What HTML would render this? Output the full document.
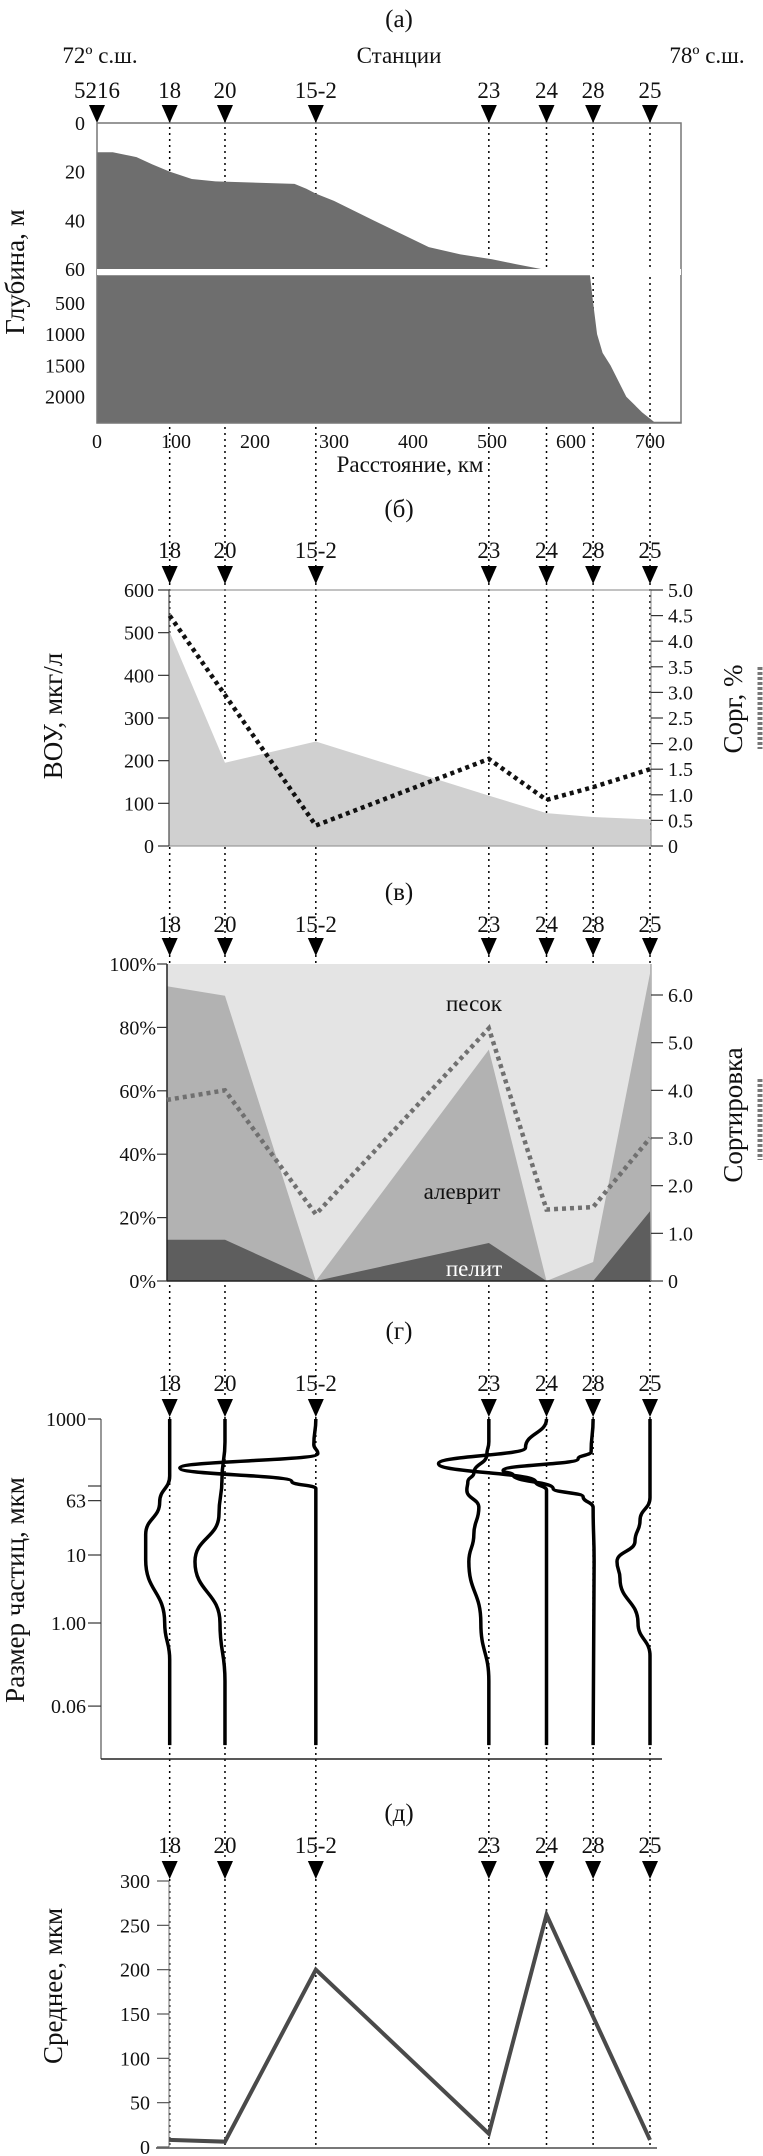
<!DOCTYPE html>
<html><head><meta charset="utf-8">
<style>
html,body{margin:0;padding:0;background:#fff;}
svg{display:block;font-family:"Liberation Serif","DejaVu Serif",serif;}
</style></head>
<body>
<svg id="fig" width="763" height="2156" viewBox="0 0 763 2156" xmlns="http://www.w3.org/2000/svg"></svg>
<script>
// ---------- data ----------
const stationNames = ["18","20","15-2","23","24","28","25"];
const stationKm = [92,162,277,496,569,628,700];
// panel a: bathymetry
const upperKm = [0,20,50,70,92,120,150,250,265,277,300,350,420,460,500,530,562];
const upperDepth = [12,12,14,17,20,23,24,25,27,29,32,40,51,54,56,58,60];
const lowerKm = [624,628,633,640,650,670,690,705,740];
const lowerDepth = [60,500,1000,1300,1500,2000,2250,2400,2400];
const depthTicksUpper = [0,20,40,60];
const depthTicksLower = [500,1000,1500,2000];
const kmTicks = [0,100,200,300,400,500,600,700];
// panel b
const vouValues = [505,195,245,118,77,68,62];
const corgValues = [4.5,2.95,0.4,1.7,0.9,1.15,1.5];
const vouTicks = [0,100,200,300,400,500,600];
const corgTicks = ["0","0.5","1.0","1.5","2.0","2.5","3.0","3.5","4.0","4.5","5.0"];
// panel c (percent)
const pelitPct = [13,13,0,12,0,0,22];
const pelitAlevritPct = [93,90,0,73,0,6,97];
const sortValues = [3.8,4.0,1.4,5.3,1.5,1.55,3.0];
const pctTicks = [0,20,40,60,80,100];
const sortTicks = ["0","1.0","2.0","3.0","4.0","5.0","6.0"];
// panel d: grain-size curves [size µm, deflection]
const sizeTicks = [1000,63,10,1,0.06];
const sizeTickLabels = ["1000","63","10","1.00","0.06"];
const curve18 = [[1000,0],[145,0],[60,-10],[20,-24],[8.5,-24],[1,-5],[0.29,0],[0.016,0]];
const curve20 = [[1000,0],[460,0],[130,-3],[40,-6],[8,-30],[1,-5],[0.14,0],[0.016,0]];
const curve152 = [[1000,0],[420,-2],[310,2],[190,-136],[120,-24],[95,0],[0.016,0]];
const curve23 = [[1000,0],[460,0],[300,-2],[160,-15],[120,-21],[90,-22],[50,-10],[20,-15],[8,-20],[1,-8],[0.14,0],[0.016,0]];
const curve24 = [[1000,0],[380,-21],[220,-108],[120,-11],[90,0],[0.016,0]];
const curve28 = [[1000,0],[330,-2],[260,-15],[175,-90],[150,-80],[95,-40],[72,-10],[50,0],[8,1],[0.016,0]];
const curve25 = [[1000,0],[70,0],[32,-10],[16,-15],[8,-33],[4.5,-30],[1,-12],[0.33,0],[0.016,0]];
const curves = [curve18,curve20,curve152,curve23,curve24,curve28,curve25];
// panel e
const meanValues = [8,6,200,15,262,147,8];
const meanTicks = [0,50,100,150,200,250,300];

// ---------- helpers ----------
const NS="http://www.w3.org/2000/svg";
const svg=document.getElementById('fig');
function mk(tag,attrs,parent){const e=document.createElementNS(NS,tag);for(const k in attrs)e.setAttribute(k,attrs[k]);(parent||svg).appendChild(e);return e;}
function txt(s,x,y,size,anchor,parent,extra){const t=mk('text',Object.assign({x:x,y:y,'font-size':size,'text-anchor':anchor||'middle',fill:'#111'},extra||{}),parent);t.textContent=s;return t;}
const kmX = km => 97 + km*(553/700);
const sx = stationKm.map(kmX);
function tri(x,y,parent){return mk('path',{d:`M${x-8},${y} L${x+8},${y} L${x},${y+18} Z`,fill:'#000'},parent);}
const LS=23, TS=20, AS=27, PS=25;

// dotted station lines
const gLines=mk('g',{});


sx.forEach((x,i)=>{const l=mk('line',{x1:x,y1:121,x2:x,y2:2147,stroke:'#000','stroke-width':1.5,'stroke-dasharray':'2,4'},gLines);

});

// ---------- panel a ----------
const gA=mk('g',{});


txt('(а)',399,27,PS,'middle',gA);
txt('72º с.ш.',100,63,LS,'middle',gA);
txt('Станции',399,63,LS,'middle',gA);
txt('78º с.ш.',707,63,LS,'middle',gA);
const aNames=["5216"].concat(stationNames), aX=[kmX(0)].concat(sx);
aNames.forEach((n,i)=>{const t=txt(n,aX[i],98,LS,'middle',gA);tri(aX[i],105,gA);});
const yUp = d => 123 + d*(146/60);
const yLo = d => 271.5 + d*(31.3/500);
let p=`M${kmX(0)},${yUp(60)} `;
upperKm.forEach((k,i)=>p+=`L${kmX(upperKm[i])},${yUp(upperDepth[i])} `);
p+=`L${kmX(upperKm[upperKm.length-1])},${yUp(60)} Z`;
const ua=mk('path',{d:p,fill:'#6e6e6e'},gA);


p=`M${kmX(0)},${yLo(60)} `;
lowerKm.forEach((k,i)=>p+=`L${kmX(k)},${yLo(lowerDepth[i])} `);
p+=`L${kmX(740)},423 L${kmX(0)},423 Z`;
const la=mk('path',{d:p,fill:'#6e6e6e'},gA);


mk('rect',{x:97,y:123,width:584,height:300,fill:'none',stroke:'#777','stroke-width':1.5},gA);
mk('rect',{x:97,y:269,width:584,height:6,fill:'#fff'},gA);
depthTicksUpper.forEach(d=>txt(String(d),85,yUp(d)+7,TS,'end',gA));
depthTicksLower.forEach(d=>txt(String(d),85,yLo(d)+7,TS,'end',gA));
kmTicks.forEach(k=>txt(String(k),kmX(k),448,TS,'middle',gA));
txt('Расстояние, км',410,472,LS,'middle',gA);
const ya=txt('Глубина, м',0,0,AS,'middle',gA,{transform:'translate(24,272) rotate(-90)'});


// ---------- panel b ----------
const gB=mk('g',{});


txt('(б)',399,517,PS,'middle',gB);
sx.forEach((x,i)=>{txt(stationNames[i],x,558,LS,'middle',gB);tri(x,566,gB);});
const yV = v => 846 - v*(256/600);
const yC = v => 846 - v*(256/5);
p=`M169,846 L169,${yV(vouValues[0])} `;
sx.forEach((x,i)=>{if(i>0)p+=`L${x},${yV(vouValues[i])} `;});
p+=`L651,846 Z`;
const va=mk('path',{d:p,fill:'#d0d0d0'},gB);

mk('rect',{x:169,y:590,width:482,height:256,fill:'none',stroke:'#999','stroke-width':1.2},gB);
mk('line',{x1:169,y1:590,x2:169,y2:846,stroke:'#555','stroke-width':1.2},gB);
const cl=mk('polyline',{points:sx.map((x,i)=>x+','+yC(corgValues[i])).join(' '),fill:'none',stroke:'#111','stroke-width':4.5,'stroke-dasharray':'4,4'},gB);

vouTicks.forEach(v=>{mk('line',{x1:158,y1:yV(v),x2:169,y2:yV(v),stroke:'#333','stroke-width':1.2},gB);txt(String(v),154,yV(v)+7,TS,'end',gB);});
corgTicks.forEach(t=>{const v=parseFloat(t);mk('line',{x1:651,y1:yC(v),x2:663,y2:yC(v),stroke:'#333','stroke-width':1.2},gB);txt(t,668,yC(v)+7,TS,'start',gB);});
txt('ВОУ, мкг/л',0,0,AS,'middle',gB,{transform:'translate(62,716) rotate(-90)'});
txt('Сорг, %',0,0,AS,'middle',gB,{transform:'translate(742,709) rotate(-90)'});
mk('line',{x1:760,y1:667,x2:760,y2:749,stroke:'#777','stroke-width':5,'stroke-dasharray':'3,2'},gB);

// ---------- panel c ----------
const gC=mk('g',{});


txt('(в)',399,900,PS,'middle',gC);
sx.forEach((x,i)=>{txt(stationNames[i],x,932,LS,'middle',gC);tri(x,938,gC);});
const yP = v => 1281 - v*(317/100);
const yS = v => 1281 - v*(286/6);
const cx = sx.map((x,i)=>i===0?167:x);
mk('rect',{x:167,y:964,width:484,height:317,fill:'#e4e4e4'},gC);
p=`M167,1281 `;cx.forEach((x,i)=>p+=`L${x},${yP(pelitAlevritPct[i])} `);p+=`L651,1281 Z`;
const al=mk('path',{d:p,fill:'#b2b2b2'},gC);

p=`M167,1281 `;cx.forEach((x,i)=>p+=`L${x},${yP(pelitPct[i])} `);p+=`L651,1281 Z`;
const pe=mk('path',{d:p,fill:'#5e5e5e'},gC);

mk('line',{x1:167,y1:964,x2:167,y2:1281,stroke:'#222','stroke-width':1.5},gC);
mk('line',{x1:167,y1:1281,x2:651,y2:1281,stroke:'#222','stroke-width':1.5},gC);
mk('line',{x1:651,y1:964,x2:651,y2:1281,stroke:'#999','stroke-width':1.2},gC);
const sl=mk('polyline',{points:cx.map((x,i)=>x+','+yS(sortValues[i])).join(' '),fill:'none',stroke:'#707070','stroke-width':4.5,'stroke-dasharray':'4,4'},gC);

pctTicks.forEach(v=>{mk('line',{x1:157,y1:yP(v),x2:167,y2:yP(v),stroke:'#333','stroke-width':1.2},gC);txt(v+'%',156,yP(v)+7,TS,'end',gC);});
sortTicks.forEach(t=>{const v=parseFloat(t);mk('line',{x1:651,y1:yS(v),x2:663,y2:yS(v),stroke:'#333','stroke-width':1.2},gC);txt(t,668,yS(v)+7,TS,'start',gC);});
txt('песок',474,1011,LS,'middle',gC);
txt('алеврит',462,1199,LS,'middle',gC);
txt('пелит',474,1276,LS,'middle',gC,{fill:'#fff'});
txt('Сортировка',0,0,AS,'middle',gC,{transform:'translate(742,1115) rotate(-90)'});
mk('line',{x1:760,y1:1079,x2:760,y2:1160,stroke:'#777','stroke-width':5,'stroke-dasharray':'3,2'},gC);

// ---------- panel d ----------
const gD=mk('g',{});


txt('(г)',399,1339,PS,'middle',gD);
sx.forEach((x,i)=>{txt(stationNames[i],x,1391,LS,'middle',gD);tri(x,1399,gD);});
const yG = s => 1623 - Math.log10(s)*68;
mk('line',{x1:101,y1:1419,x2:101,y2:1759,stroke:'#555','stroke-width':1.2},gD);
mk('line',{x1:101,y1:1759,x2:662,y2:1759,stroke:'#222','stroke-width':1.5},gD);
sizeTicks.forEach((s,i)=>{mk('line',{x1:88,y1:yG(s),x2:101,y2:yG(s),stroke:'#333','stroke-width':1.2},gD);txt(sizeTickLabels[i],86,yG(s)+7,TS,'end',gD);});
mk('line',{x1:88,y1:1486,x2:101,y2:1486,stroke:'#333','stroke-width':1.2},gD);
txt('Размер частиц, мкм',0,0,AS,'middle',gD,{transform:'translate(24,1590) rotate(-90)'});
curves.forEach((c,i)=>{
  const pts=c.map(pt=>[sx[i]+pt[1],yG(pt[0])]);
  let d=`M${pts[0][0]},${pts[0][1]}`;
  for(let k=1;k<pts.length;k++){const a=pts[k-1],b=pts[k];const my=(a[1]+b[1])/2;d+=` C${a[0]},${my} ${b[0]},${my} ${b[0]},${b[1]}`;}
  const cp=mk('path',{d:d,fill:'none',stroke:'#000','stroke-width':3.5},gD);
  
  
});

// ---------- panel e ----------
const gE=mk('g',{});


txt('(д)',399,1821,PS,'middle',gE);
sx.forEach((x,i)=>{txt(stationNames[i],x,1853,LS,'middle',gE);tri(x,1861,gE);});
const yM = v => 2147 - v*(266/300);
mk('line',{x1:169,y1:1881,x2:169,y2:2147,stroke:'#888','stroke-width':1.2},gE);
mk('line',{x1:156,y1:2148,x2:657,y2:2148,stroke:'#777','stroke-width':2},gE);
meanTicks.forEach(v=>{mk('line',{x1:157,y1:yM(v),x2:169,y2:yM(v),stroke:'#555','stroke-width':1.2},gE);txt(String(v),150,yM(v)+7,TS,'end',gE);});
const ml=mk('polyline',{points:cx.map((x,i)=>(i===0?169:x)+','+yM(meanValues[i])).join(' '),fill:'none',stroke:'#4a4a4a','stroke-width':4},gE);

txt('Среднее, мкм',0,0,AS,'middle',gE,{transform:'translate(62,1986) rotate(-90)'});
</script>
</body></html>
